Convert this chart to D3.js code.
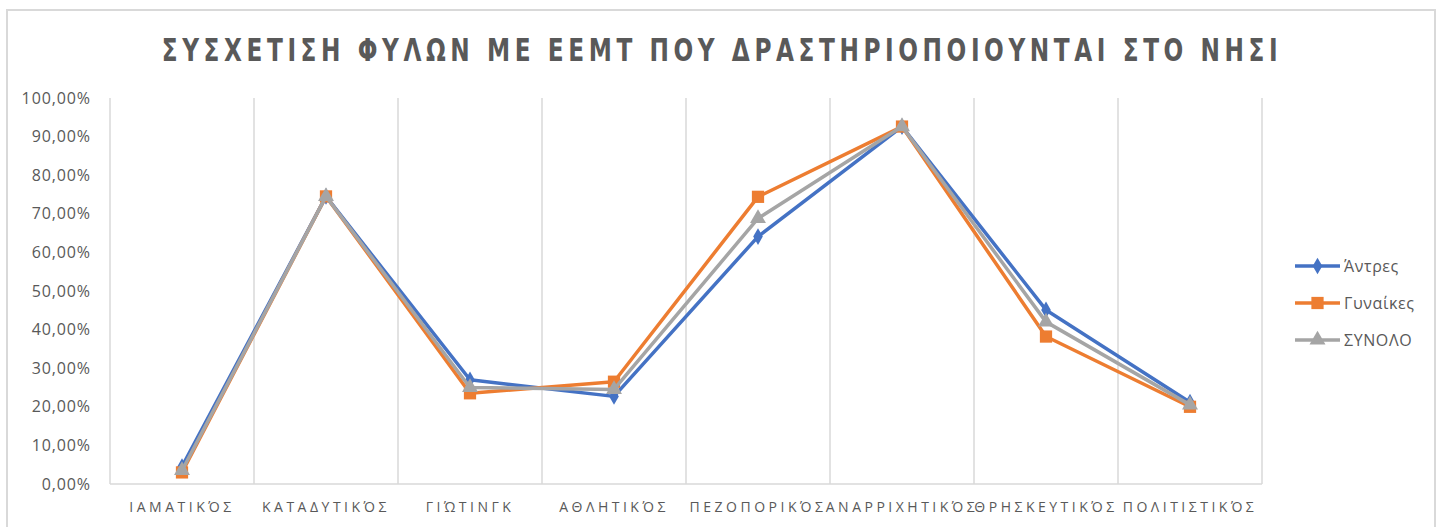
<!DOCTYPE html>
<html>
<head>
<meta charset="utf-8">
<script src="https://cdn.jsdelivr.net/npm/d3@7"></script>
<style>
  body { margin: 0; background: #fff; }
  text { fill: #595959; }
</style>
</head>
<body>
<svg id="chart" width="1443" height="527"></svg>
<script>
var categories = ["ΙΑΜΑΤΙΚΌΣ", "ΚΑΤΑΔΥΤΙΚΌΣ", "ΓΙΏΤΙΝΓΚ", "ΑΘΛΗΤΙΚΌΣ", "ΠΕΖΟΠΟΡΙΚΌΣ", "ΑΝΑΡΡΙΧΗΤΙΚΌΣ", "ΘΡΗΣΚΕΥΤΙΚΌΣ", "ΠΟΛΙΤΙΣΤΙΚΌΣ"];
var antres = [0.045, 0.745, 0.27, 0.227, 0.641, 0.926, 0.451, 0.212];
var gynaikes = [0.03, 0.745, 0.235, 0.265, 0.744, 0.926, 0.382, 0.20];
var synolo = [0.035, 0.745, 0.25, 0.245, 0.688, 0.926, 0.42, 0.205];
var yTicks = [0, 0.1, 0.2, 0.3, 0.4, 0.5, 0.6, 0.7, 0.8, 0.9, 1.0];

var series = [
    { name: "Άντρες", values: antres, color: "#4472c4", marker: "diamond" },
    { name: "Γυναίκες", values: gynaikes, color: "#ed7d31", marker: "square" },
    { name: "ΣΥΝΟΛΟ", values: synolo, color: "#a5a5a5", marker: "triangle" }
];

var svg = d3.select("#chart"),
    margin = { top: 98, right: 181, bottom: 43, left: 110 },
    width = +svg.attr("width") - margin.left - margin.right,
    height = +svg.attr("height") - margin.top - margin.bottom;

// chart border
svg.append("rect")
    .attr("x", 7).attr("y", 10)
    .attr("width", 1428).attr("height", 530)
    .attr("fill", "none")
    .attr("stroke", "#d9d9d9")
    .attr("stroke-width", 2);

// title, squeezed horizontally like the narrow original font
svg.append("text")
    .attr("transform", "translate(722,61) scale(0.833,1)")
    .attr("text-anchor", "middle")
    .style("font-family", "'DejaVu Sans Condensed', 'DejaVu Sans', sans-serif")
    .style("font-weight", "bold")
    .style("font-size", "31px")
    .style("letter-spacing", "5.5px")
    .text("ΣΥΣΧΕΤΙΣΗ ΦΥΛΩΝ ΜΕ ΕΕΜΤ ΠΟΥ ΔΡΑΣΤΗΡΙΟΠΟΙΟΥΝΤΑΙ ΣΤΟ ΝΗΣΙ");

var x = d3.scaleBand().domain(categories).range([0, width]);
var y = d3.scaleLinear().domain([0, 1]).range([height, 0]);

var g = svg.append("g")
    .attr("transform", "translate(" + margin.left + "," + margin.top + ")");

// vertical gridlines at category boundaries
var bounds = categories.map(function (d) { return x(d); }).concat([width]);
g.selectAll(".grid")
    .data(bounds)
    .enter().append("line")
    .attr("x1", function (d) { return d; })
    .attr("x2", function (d) { return d; })
    .attr("y1", 0).attr("y2", height)
    .attr("stroke", "#d9d9d9")
    .attr("stroke-width", 1.5);

g.append("line")
    .attr("x1", 0).attr("x2", width)
    .attr("y1", height).attr("y2", height)
    .attr("stroke", "#d9d9d9")
    .attr("stroke-width", 1.5);

var fmt = function (d) { return (d * 100).toFixed(2).replace(".", ",") + "%"; };

var yAxis = g.append("g")
    .call(d3.axisLeft(y).tickValues(yTicks).tickFormat(fmt).tickSize(0).tickPadding(19));
yAxis.select(".domain").remove();
yAxis.selectAll("text")
    .style("font-family", "'Open Sans', sans-serif")
    .style("font-size", "16px")
    .style("letter-spacing", "0.9px")
    .attr("fill", "#595959");

var xAxis = g.append("g")
    .attr("transform", "translate(0," + height + ")")
    .call(d3.axisBottom(x).tickSize(0).tickPadding(18));
xAxis.select(".domain").remove();
xAxis.selectAll("text")
    .style("font-family", "'Open Sans', sans-serif")
    .style("font-size", "14px")
    .style("letter-spacing", "3.5px")
    .attr("fill", "#595959");

var line = d3.line()
    .x(function (d, i) { return x(categories[i]) + x.bandwidth() / 2; })
    .y(function (d) { return y(d); });

var symbolFor = {
    diamond: d3.symbol().type(d3.symbolDiamond).size(80),
    square: d3.symbol().type(d3.symbolSquare).size(150),
    triangle: d3.symbol().type(d3.symbolTriangle).size(110)
};

series.forEach(function (s) {
    g.append("path")
        .datum(s.values)
        .attr("fill", "none")
        .attr("stroke", s.color)
        .attr("stroke-width", 3.5)
        .attr("stroke-linejoin", "round")
        .attr("d", line);
    g.selectAll(".m-" + s.marker)
        .data(s.values)
        .enter().append("path")
        .attr("class", "m-" + s.marker)
        .attr("transform", function (d, i) {
            return "translate(" + (x(categories[i]) + x.bandwidth() / 2) + "," + y(d) + ")";
        })
        .attr("d", symbolFor[s.marker]())
        .attr("fill", s.color);
});

// legend
var legend = svg.append("g").attr("transform", "translate(1295,266)");
series.forEach(function (s, i) {
    var lg = legend.append("g").attr("transform", "translate(0," + (i * 37) + ")");
    lg.append("line")
        .attr("x1", 0).attr("x2", 45)
        .attr("stroke", s.color).attr("stroke-width", 3.5);
    lg.append("path")
        .attr("transform", "translate(22.5,0)")
        .attr("d", symbolFor[s.marker]())
        .attr("fill", s.color);
    lg.append("text")
        .attr("x", 49).attr("y", 6)
        .style("font-family", "'Open Sans', sans-serif")
        .style("font-size", "16px")
        .style("letter-spacing", "0.6px")
        .text(s.name);
});
</script>
</body>
</html>
